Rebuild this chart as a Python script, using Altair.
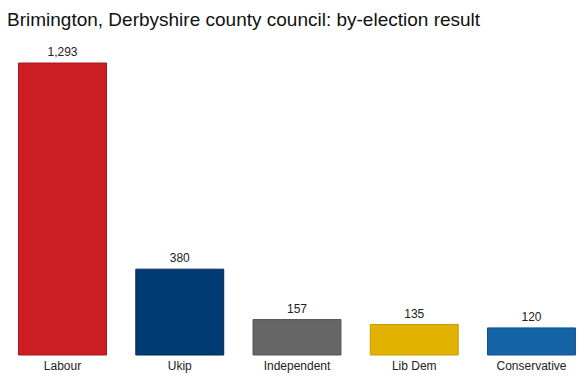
import altair as alt
import pandas as pd

parties = ["Labour", "Ukip", "Independent", "Lib Dem", "Conservative"]
votes = [1293, 380, 157, 135, 120]
fills = ["#cc1d23", "#003b73", "#666666", "#e1b300", "#1463a6"]
strokes = ["#a8161b", "#002a55", "#555555", "#c49c00", "#0f5291"]

df = pd.DataFrame({"party": parties, "votes": votes,
                   "label": [f"{v:,}" for v in votes]})

x = alt.X("party:N", sort=parties,
          scale=alt.Scale(paddingInner=0.25, paddingOuter=0.073),
          axis=alt.Axis(title=None, domain=False, ticks=False, labelAngle=0,
                        labelFont="Liberation Sans", labelFontSize=12,
                        labelColor="#222222", labelPadding=5))
y = alt.Y("votes:Q", scale=alt.Scale(domain=[0, 1293], nice=False),
          axis=None)

bars = alt.Chart(df).mark_bar(strokeWidth=1).encode(
    x=x, y=y,
    color=alt.Color("party:N", scale=alt.Scale(domain=parties, range=fills), legend=None),
    stroke=alt.Stroke("party:N", scale=alt.Scale(domain=parties, range=strokes), legend=None),
)
text = alt.Chart(df).mark_text(baseline="bottom", dy=-4, font="Liberation Sans",
                               fontSize=12, color="#222222").encode(
    x=x, y=y, text="label:N")

chart = (bars + text).properties(
    width=574, height=292,
    title=alt.TitleParams("Brimington, Derbyshire county council: by-election result",
                          anchor="start", frame="group", font="Liberation Sans",
                          fontSize=19, fontWeight="normal", color="#111111",
                          offset=16, dx=-3),
    autosize=alt.AutoSizeParams(type="none"),
    padding={"left": 10, "top": 63, "right": 0, "bottom": 24},
).configure_view(stroke=None)

chart.save("out.html", embed_options={"renderer": "svg", "actions": False})
